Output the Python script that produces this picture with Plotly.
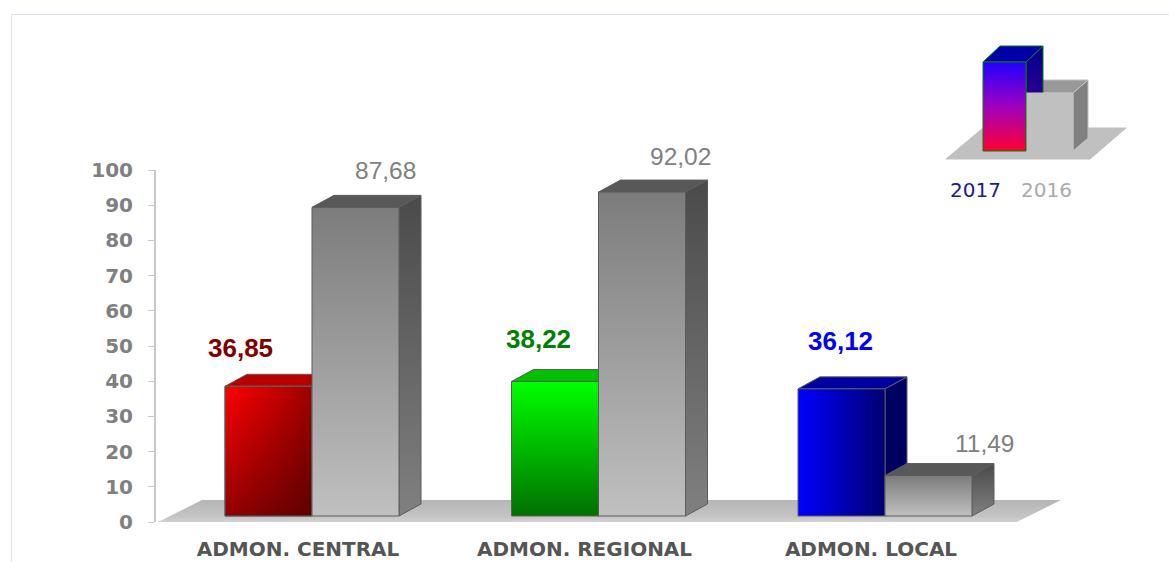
import plotly.graph_objects as go

categories = ["ADMON. CENTRAL", "ADMON. REGIONAL", "ADMON. LOCAL"]
values_2017 = [36.85, 38.22, 36.12]
values_2016 = [87.68, 92.02, 11.49]
labels_2017 = ["36,85", "38,22", "36,12"]
labels_2016 = ["87,68", "92,02", "11,49"]
y_ticks = [0, 10, 20, 30, 40, 50, 60, 70, 80, 90, 100]
legend_names = ["2017", "2016"]

W, H = 1169, 562
ML, MT, MB = 156, 170, 40
PX_Y = (H - MT - MB) / 100.0      # pixels per value unit
GROUP = 286.5                     # pixels per category
CX0 = 312.0                       # centre of first group in pixels
X_LO = (ML - CX0) / GROUP
X_HI = (W - CX0) / GROUP
BAR_W = 87 / GROUP
DX = 22 / GROUP
DY = 12 / PX_Y
BASE = 6 / PX_Y
FLOOR_DY = 22 / PX_Y
PH = H - MB                       # height of the paper area

fig = go.Figure()


def poly(xs, ys, stops=None, kind="vertical", solid=None, line="#5c5c5c", lw=1, xa="x", ya="y"):
    kw = dict(x=list(xs) + [xs[0]], y=list(ys) + [ys[0]], mode="lines", fill="toself",
              line=dict(color=line, width=lw), hoverinfo="skip", showlegend=False,
              xaxis=xa, yaxis=ya)
    if stops:
        kw["fillgradient"] = dict(type=kind, colorscale=stops)
    else:
        kw["fillcolor"] = solid
    fig.add_trace(go.Scatter(**kw))


def bar(x0, v, front, front_kind, top, side, extra=None):
    x1 = x0 + BAR_W
    y0, y1 = BASE, BASE + v
    side_args = dict(stops=side) if isinstance(side, list) else dict(solid=side)
    poly([x1, x1 + DX, x1 + DX, x1], [y0, y0 + DY, y1 + DY, y1], **side_args)
    poly([x0, x0 + DX, x1 + DX, x1], [y1, y1 + DY, y1 + DY, y1], solid=top)
    poly([x0, x1, x1, x0], [y0, y0, y1, y1], stops=front, kind=front_kind)
    if extra:
        poly([x0, x1, x1, x0], [y0, y0, y1, y1], stops=extra, kind="vertical")


# floor
fl, fr = (158 - CX0) / GROUP, (1017 - CX0) / GROUP
fd = 44 / GROUP
poly([fl, fr, fr + fd, fl + fd], [0, 0, FLOOR_DY, FLOOR_DY],
     stops=[[0, "#d2d2d2"], [0.25, "#c4c4c4"], [1, "#b6b6b6"]], line="rgba(0,0,0,0)", lw=0)

GREY_FRONT = [[0, "#c0c0c0"], [1, "#7c7c7c"]]
GREY_SIDE = [[0, "#808080"], [1, "#4a4a4a"]]
styles_2017 = [
    dict(front=[[0, "#ff0000"], [1, "#a00000"]], front_kind="horizontal", top="#b80000", side="#800000",
         extra=[[0, "rgba(0,0,0,0.42)"], [1, "rgba(0,0,0,0)"]]),
    dict(front=[[0, "#007000"], [1, "#00ff00"]], front_kind="vertical", top="#00c000", side="#008000"),
    dict(front=[[0, "#0000ff"], [1, "#000070"]], front_kind="horizontal", top="#0000a0", side="#000060"),
]
for i in range(3):
    bar(i - BAR_W, values_2017[i], **styles_2017[i])
    bar(i, values_2016[i], GREY_FRONT, "vertical", "#585858", GREY_SIDE)

label_shift = -14 / GROUP

# legend glyph in its own pixel-unit axes
LX0, LX1, LY0, LY1 = 940, 1130, 40, 165
poly([946, 1090, 1126, 983], [159, 159, 128, 128], solid="#c0c0c0", line="#c0c0c0", xa="x2", ya="y2")
poly([1073, 1088, 1088, 1073], [151, 138, 80, 93], solid="#808080", line="#c0c0c0", xa="x2", ya="y2")
poly([1026, 1041, 1088, 1073], [93, 80, 80, 93], solid="#999999", line="#c0c0c0", xa="x2", ya="y2")
poly([1026, 1043, 1043, 1026], [62, 46, 105, 124], stops=[[0, "#400090"], [1, "#000090"]], line="#008000", xa="x2", ya="y2")
poly([983, 1000, 1043, 1026], [62, 46, 46, 62], solid="#0000a8", line="#008000", xa="x2", ya="y2")
poly([1026, 1073, 1073, 1026], [151, 151, 93, 93], solid="#c0c0c0", line="#c0c0c0", xa="x2", ya="y2")
poly([983, 1026, 1026, 983], [151, 151, 62, 62], stops=[[0, "#ff0030"], [0.5, "#a000c0"], [1, "#2000ff"]], line="#008000", xa="x2", ya="y2")

annotations = []
shift_2017 = [-28, -16.5, -1]
lift_2017 = [38, 42, 48]
shift_2016 = [30, 38, 56]
lift_2016 = [37, 36, 32]
colors_2017 = ["#800000", "#008000", "#0000ff"]
for i in range(3):
    annotations.append(dict(x=i - BAR_W / 2, y=BASE + values_2017[i], xref="x", yref="y", text=f"<b>{labels_2017[i]}</b>",
                            showarrow=False, xshift=shift_2017[i], yshift=lift_2017[i],
                            xanchor="center", yanchor="middle",
                            font=dict(family="Liberation Sans", size=26, color=colors_2017[i])))
    annotations.append(dict(x=i + BAR_W / 2, y=BASE + values_2016[i], xref="x", yref="y", text=labels_2016[i],
                            showarrow=False, xshift=shift_2016[i], yshift=lift_2016[i],
                            xanchor="center", yanchor="middle",
                            font=dict(family="Liberation Sans", size=24.5, color="#808080")))
for name, px, col in zip(legend_names, [975, 1046], ["#1a1a90", "#aaaaaa"]):
    annotations.append(dict(x=px / W, y=(H - 190 - MB) / PH, xref="paper", yref="paper", text=name, showarrow=False,
                            xanchor="center", yanchor="middle",
                            font=dict(family="DejaVu Sans", size=20, color=col)))

frame_x, frame_y = 11.5 / W, (H - 14.5 - MB) / PH
shapes = [
    dict(type="line", xref="paper", yref="paper", x0=frame_x, x1=1, y0=frame_y, y1=frame_y,
         line=dict(color="#dde3f3", width=1)),
    dict(type="line", xref="paper", yref="paper", x0=frame_x, x1=frame_x, y0=frame_y, y1=-MB / PH,
         line=dict(color="#dde3f3", width=1)),
]

fig.update_layout(
    width=W, height=H, margin=dict(l=0, r=0, t=0, b=MB, autoexpand=False),
    paper_bgcolor="#ffffff", plot_bgcolor="rgba(0,0,0,0)", showlegend=False,
    annotations=annotations, shapes=shapes,
    xaxis=dict(domain=[ML / W, 1], range=[X_LO, X_HI], tickmode="array",
               tickvals=[i + label_shift for i in range(3)],
               ticktext=categories, showgrid=False, zeroline=False, showline=False, ticks="",
               ticklabelstandoff=13,
               tickfont=dict(family="DejaVu Sans", size=20, color="#555555", weight="bold")),
    yaxis=dict(domain=[0, (H - MT - MB) / PH], range=[0, 100], tickmode="array", tickvals=y_ticks,
               showgrid=False, zeroline=False,
               showline=True, linecolor="#c8c8c8", linewidth=2, ticks="outside", ticklen=6, tickcolor="#c8c8c8",
               ticklabelstandoff=11,
               tickfont=dict(family="DejaVu Sans", size=20, color="#808080", weight="bold")),
    xaxis2=dict(domain=[LX0 / W, LX1 / W], range=[LX0, LX1], visible=False, anchor="y2"),
    yaxis2=dict(domain=[(H - LY1 - MB) / PH, (H - LY0 - MB) / PH], range=[LY1, LY0], visible=False, anchor="x2"),
)
fig.write_html("out.html", config={"displayModeBar": False}, post_script="document.body.style.margin='0';")
